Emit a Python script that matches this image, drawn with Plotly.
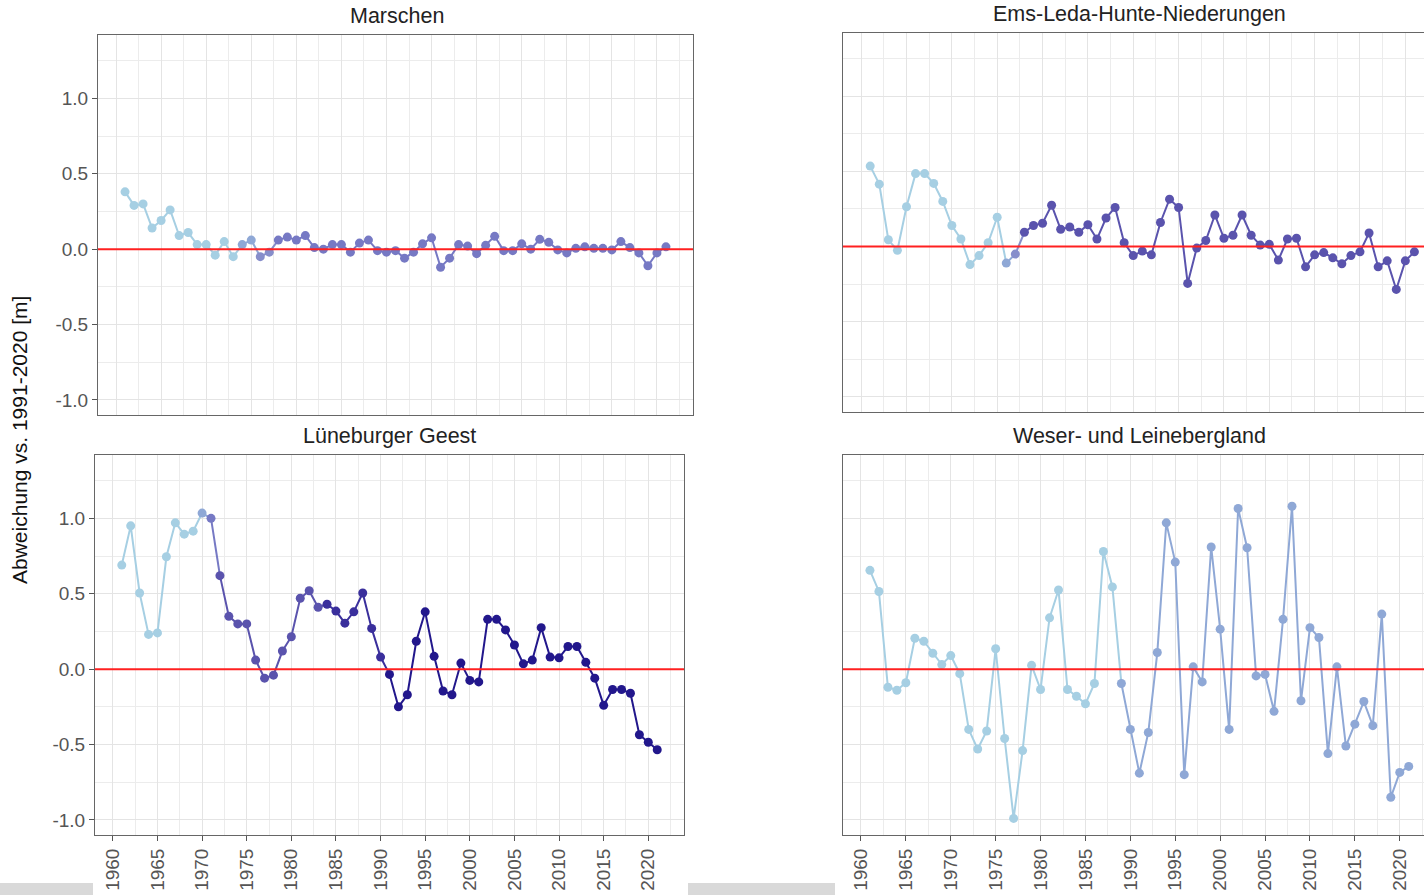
import plotly.graph_objects as go

# ---------------- data ----------------
years = [1961, 1962, 1963, 1964, 1965, 1966, 1967, 1968, 1969, 1970,
         1971, 1972, 1973, 1974, 1975, 1976, 1977, 1978, 1979, 1980,
         1981, 1982, 1983, 1984, 1985, 1986, 1987, 1988, 1989, 1990,
         1991, 1992, 1993, 1994, 1995, 1996, 1997, 1998, 1999, 2000,
         2001, 2002, 2003, 2004, 2005, 2006, 2007, 2008, 2009, 2010,
         2011, 2012, 2013, 2014, 2015, 2016, 2017, 2018, 2019, 2020,
         2021]

marschen = [0.38, 0.29, 0.30, 0.14, 0.19, 0.26, 0.09, 0.11, 0.03, 0.03,
            -0.04, 0.05, -0.05, 0.03, 0.06, -0.05, -0.02, 0.06, 0.08, 0.06,
            0.09, 0.01, 0.00, 0.03, 0.03, -0.02, 0.04, 0.06, -0.01, -0.02,
            -0.01, -0.06, -0.02, 0.035, 0.075, -0.12, -0.06, 0.03, 0.02, -0.03,
            0.025, 0.085, -0.01, -0.01, 0.035, 0.0, 0.065, 0.045, -0.005, -0.025,
            0.005, 0.015, 0.005, 0.005, -0.005, 0.05, 0.01, -0.025, -0.11, -0.025,
            0.015]

ems = [0.535, 0.415, 0.045, -0.025, 0.265, 0.485, 0.485, 0.42, 0.30, 0.14,
       0.05, -0.12, -0.06, 0.025, 0.195, -0.11, -0.05, 0.095, 0.14, 0.155,
       0.275, 0.115, 0.13, 0.095, 0.145, 0.05, 0.19, 0.26, 0.025, -0.06,
       -0.03, -0.055, 0.16, 0.315, 0.26, -0.245, -0.01, 0.04, 0.21, 0.055,
       0.075, 0.21, 0.075, 0.01, 0.015, -0.09, 0.05, 0.055, -0.135, -0.055,
       -0.04, -0.075, -0.115, -0.06, -0.035, 0.09, -0.135, -0.095, -0.285, -0.095,
       -0.035]

lueneburg = [0.69, 0.95, 0.505, 0.23, 0.24, 0.745, 0.97, 0.895, 0.915, 1.035,
             1.0, 0.62, 0.35, 0.30, 0.30, 0.06, -0.06, -0.04, 0.12, 0.215,
             0.47, 0.52, 0.41, 0.43, 0.385, 0.305, 0.38, 0.505, 0.27, 0.08,
             -0.035, -0.25, -0.17, 0.185, 0.38, 0.085, -0.145, -0.17, 0.04, -0.075,
             -0.085, 0.33, 0.33, 0.26, 0.16, 0.035, 0.06, 0.275, 0.08, 0.075,
             0.15, 0.15, 0.045, -0.06, -0.24, -0.135, -0.135, -0.16, -0.435, -0.485,
             -0.535]

weser = [0.655, 0.515, -0.12, -0.14, -0.09, 0.205, 0.185, 0.105, 0.03, 0.09,
         -0.03, -0.40, -0.53, -0.41, 0.135, -0.46, -0.99, -0.54, 0.025, -0.135,
         0.34, 0.525, -0.135, -0.18, -0.23, -0.095, 0.78, 0.545, -0.095, -0.40,
         -0.69, -0.42, 0.11, 0.97, 0.71, -0.70, 0.015, -0.085, 0.81, 0.265,
         -0.40, 1.065, 0.805, -0.045, -0.035, -0.28, 0.33, 1.08, -0.21, 0.275,
         0.21, -0.56, 0.015, -0.51, -0.365, -0.215, -0.375, 0.365, -0.85, -0.685,
         -0.645]

# trend class per year (mapped to colour)
cls_marschen = [0]*13 + [1]*2 + [2]*2 + [3]*44
cls_ems = [0]*15 + [1] + [2] + [4]*44
cls_lueneburg = [0]*9 + [1] + [3] + [4]*12 + [5]*7 + [6]*31
cls_weser = [0]*28 + [1]*33

titles = ["Marschen", "Ems-Leda-Hunte-Niederungen", "Lüneburger Geest", "Weser- und Leinebergland"]
y_title = "Abweichung vs. 1991-2020 [m]"
y_ticks = [-1.0, -0.5, 0.0, 0.5, 1.0]
y_ticklabels = ["-1.0", "-0.5", "0.0", "0.5", "1.0"]

# ---------------- style ----------------
palette = {0: "#a6cfe3", 1: "#8fa8d6", 2: "#878ecb", 3: "#7679c4",
           4: "#5a53ad", 5: "#3a2f9c", 6: "#22178c"}

W, H = 1424, 895
FONT = "Liberation Sans, Arial, sans-serif"

# panel pixel boxes: (left, top, right, bottom), x range, title centre
panels = [
    dict(vals=marschen, cls=cls_marschen, box=(98, 35, 693, 415), xr=(1958, 2024),
         tpos=(397, 16), ylab=True, xlab=False),
    dict(vals=ems, cls=cls_ems, box=(843, 33, 1424, 412), xr=(1958, 1958 + 581 / 9.07),
         tpos=(1139, 14), ylab=False, xlab=False),
    dict(vals=lueneburg, cls=cls_lueneburg, box=(95, 455, 684, 835), xr=(1958, 2024),
         tpos=(390, 436), ylab=True, xlab=True),
    dict(vals=weser, cls=cls_weser, box=(843, 455, 1424, 835), xr=(1958, 1958 + 581 / 8.98),
         tpos=(1139, 436), ylab=False, xlab=True),
]

fig = go.Figure()
layout = dict(width=W, height=H, margin=dict(l=0, r=0, t=0, b=0),
              paper_bgcolor="white", plot_bgcolor="white", showlegend=False,
              font=dict(family=FONT, color="#4d4d4d"))
annotations = []
shapes = []

for i, p in enumerate(panels):
    n = i + 1
    xa = "x" if n == 1 else f"x{n}"
    ya = "y" if n == 1 else f"y{n}"
    l, t, r, b = p["box"]
    cls = p["cls"]
    vals = p["vals"]
    # line segments grouped by colour class (segment colour = start point colour)
    start = 0
    for k in range(1, len(years) + 1):
        if k == len(years) or cls[k] != cls[start]:
            end = min(k, len(years) - 1)
            fig.add_trace(go.Scatter(x=years[start:end + 1], y=vals[start:end + 1],
                                     mode="lines", xaxis=xa, yaxis=ya,
                                     line=dict(color=palette[cls[start]], width=2),
                                     hoverinfo="skip"))
            start = k
    fig.add_trace(go.Scatter(x=years, y=vals, mode="markers", xaxis=xa, yaxis=ya,
                             marker=dict(color=[palette[c] for c in cls], size=9,
                                         line=dict(width=0))))
    xkey = "xaxis" if n == 1 else f"xaxis{n}"
    ykey = "yaxis" if n == 1 else f"yaxis{n}"
    layout[xkey] = dict(domain=[l / W, r / W], range=list(p["xr"]), anchor=ya,
                        tickmode="linear", tick0=1960, dtick=5,
                        showticklabels=p["xlab"], ticks="outside" if p["xlab"] else "",
                        ticklen=5, tickcolor="#555", tickangle=-90,
                        tickfont=dict(size=19, color="#555", family=FONT),
                        showline=True, linecolor="#666", linewidth=1, mirror=True,
                        zeroline=False,
                        showgrid=True, gridcolor="#e4e4e4", gridwidth=1.2,
                        minor=dict(tick0=1960, dtick=2.5, showgrid=True,
                                   gridcolor="#ececec", gridwidth=1))
    layout[ykey] = dict(domain=[1 - b / H, 1 - t / H], range=[-1.1, 1.42], anchor=xa,
                        tickmode="array", tickvals=y_ticks, ticktext=y_ticklabels,
                        showticklabels=p["ylab"], ticks="outside" if p["ylab"] else "",
                        ticklen=5, tickcolor="#555",
                        tickfont=dict(size=19, color="#555", family=FONT),
                        showline=True, linecolor="#666", linewidth=1,
                        mirror=(r < W), zeroline=False,
                        showgrid=True, gridcolor="#e4e4e4", gridwidth=1.2,
                        minor=dict(tick0=0, dtick=0.25, showgrid=True,
                                   gridcolor="#ececec", gridwidth=1))
    # red reference line at 0
    shapes.append(dict(type="line", xref=f"{xa} domain", yref=ya, x0=0, x1=1, y0=0, y1=0,
                       line=dict(color="#ff2020", width=2), layer="above"))
    tx, ty = p["tpos"]
    annotations.append(dict(text=titles[i], x=tx / W, y=1 - ty / H, xref="paper", yref="paper",
                            showarrow=False, xanchor="center", yanchor="middle",
                            font=dict(size=21.5, color="#222", family=FONT)))

annotations.append(dict(text=y_title, x=20 / W, y=1 - 440 / H, xref="paper", yref="paper",
                        showarrow=False, textangle=-90, xanchor="center", yanchor="middle",
                        font=dict(size=21, color="#111", family=FONT)))

# grey strips at the bottom edge of the screenshot
for x0, x1 in [(0, 93), (688, 835)]:
    shapes.append(dict(type="rect", xref="paper", yref="paper", x0=x0 / W, x1=x1 / W,
                       y0=0, y1=12 / H, fillcolor="#d9d9d9", line=dict(width=0), layer="above"))

layout["annotations"] = annotations
layout["shapes"] = shapes
fig.update_layout(**layout)
fig.write_html("out.html")
